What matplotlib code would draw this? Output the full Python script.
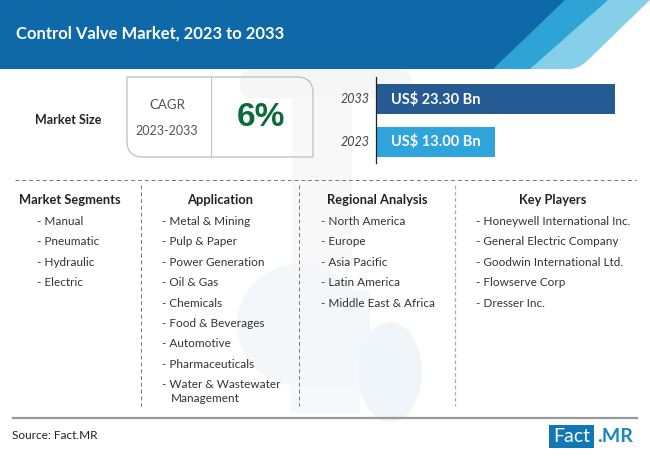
import matplotlib
matplotlib.use("Agg")
import matplotlib.pyplot as plt
from matplotlib.patches import Polygon, Rectangle, Ellipse, FancyBboxPatch, PathPatch
from matplotlib.path import Path

plt.rcParams['font.family'] = ['Lato', 'DejaVu Sans']

title = "Control Valve Market, 2023 to 2033"
years = ["2033", "2023"]
bar_labels = ["US$ 23.30 Bn", "US$ 13.00 Bn"]
# bars in the picture are not to scale, so lengths are read off it
bar_lengths = [239, 119]
bar_colors = ["#255a92", "#2ea3dc"]

segments = ["- Manual", "- Pneumatic", "- Hydraulic", "- Electric"]
applications = ["- Metal & Mining", "- Pulp & Paper", "- Power Generation", "- Oil & Gas",
                "- Chemicals", "- Food & Beverages", "- Automotive", "- Pharmaceuticals",
                "- Water & Wastewater"]
regions = ["- North America", "- Europe", "- Asia Pacific", "- Latin America",
           "- Middle East & Africa"]
players = ["- Honeywell International Inc.", "- General Electric Company",
           "- Goodwin International Ltd.", "- Flowserve Corp", "- Dresser Inc."]

fig = plt.figure(figsize=(6.5, 4.57), dpi=100)
ax = fig.add_axes([0, 0, 1, 1])
ax.set_xlim(0, 650)
ax.set_ylim(457, 0)
ax.axis('off')

# valve watermark
ax.add_patch(FancyBboxPatch((240, 70), 172, 28, boxstyle="round,pad=0,rounding_size=12",
                            color="#f6f6f6", lw=0, zorder=0))
ax.add_patch(Rectangle((292, 98), 60, 170, color="#f8f8f8", lw=0, zorder=0))
ax.add_patch(Ellipse((300, 325), 126, 122, color="#f3f7fa", lw=0, zorder=0))
ax.add_patch(Rectangle((300, 290), 70, 105, color="#f3f7fa", lw=0, zorder=0))
ax.add_patch(Ellipse((390, 372), 64, 100, color="#f0f5fa", lw=0, zorder=0))
ax.add_patch(Rectangle((290, 385), 70, 28, color="#f6f8fb", lw=0, zorder=0))

# header, each layer runs under the next so no seams show
ax.add_patch(Rectangle((0, 0), 650, 69, color="#0f69a8", lw=0, zorder=1))
ax.add_patch(Polygon([(565, 0), (650, 0), (650, 69), (493, 69)], color="#2ea3d5", lw=0, zorder=2))
ax.add_patch(Polygon([(608, 0), (650, 0), (650, 69), (530, 69)], color="#85cfe8", lw=0, zorder=3))
ax.add_patch(PathPatch(Path([(650, 0), (588, 60), (579, 69), (570, 69), (570, 70), (650, 70), (650, 0)],
                            [Path.MOVETO, Path.LINETO, Path.CURVE3, Path.CURVE3, Path.LINETO,
                             Path.LINETO, Path.CLOSEPOLY]),
                       fc="white", ec="none", lw=0, zorder=4))
ax.text(16, 34, title, color="white", fontsize=12, fontweight='bold', va='center', zorder=5)

# CAGR box
verts = [(127, 77), (297, 77), (313, 77), (313, 93), (313, 157), (143, 157), (127, 157),
         (127, 141), (127, 77)]
codes = [Path.MOVETO, Path.LINETO, Path.CURVE3, Path.CURVE3, Path.LINETO, Path.LINETO,
         Path.CURVE3, Path.CURVE3, Path.LINETO]
ax.add_patch(PathPatch(Path(verts, codes), fc="none", ec="#c4c4c4", lw=1))
ax.plot([211, 211], [77, 157], color="#c4c4c4", lw=0.8)
ax.text(68, 120, "Market Size", fontsize=9, fontweight='bold', color="#222222", ha='center', va='center')
ax.text(167, 105, "CAGR", fontsize=9.5, color="#555555", ha='center', va='center')
ax.text(167, 131, "2023-2033", fontsize=9, color="#555555", ha='center', va='center')
ax.text(261, 117, "6%", fontsize=24, color="#0d6b3b", ha='center', va='center', fontweight='bold',
        family=['Liberation Sans', 'DejaVu Sans'])

# bars
bar_y = [99, 142]
ax.barh(bar_y, bar_lengths, height=30.5, left=376, color=bar_colors, zorder=2)
ax.plot([376, 376], [77, 163], color="#222222", lw=0.9, zorder=3)
for y, year, label in zip(bar_y, years, bar_labels):
    ax.text(370, y, year, fontsize=9, color="#444444", ha='right', va='center', style='italic')
    ax.text(391, y, label, fontsize=10.5, color="white", va='center', fontweight='bold', zorder=4)

# separators
ax.plot([15, 636], [180, 180], color="#777777", lw=0.7, ls=(0, (4, 3)))
for x in [141, 299]:
    ax.plot([x, x], [185, 406], color="#777777", lw=0.7, ls=(0, (4, 3)))
ax.plot([455, 455], [185, 406], color="#aaaaaa", lw=0.9, ls=(0, (3, 2)))

# columns
heads = [("Market Segments", 70), ("Application", 220), ("Regional Analysis", 377), ("Key Players", 553)]
for head, x in heads:
    ax.text(x, 199.5, head, fontsize=9.3, fontweight='bold', color="#222222", ha='center', va='center')

columns = [(segments, 37), (applications, 162), (regions, 321), (players, 476)]
for items, x in columns:
    for i, item in enumerate(items):
        ax.text(x, 221.5 + i * 20.4, item, fontsize=8.5, color="#333333", va='center')
ax.text(171, 398.5, "Management", fontsize=8.5, color="#333333", va='center')

# footer
ax.plot([13, 637], [418, 418], color="#999999", lw=1.6)
ax.text(12, 435.5, "Source: Fact.MR", fontsize=8.5, color="#222222", va='center')
ax.add_patch(Rectangle((549, 425), 45, 23, color="#0f78b5", lw=0))
ax.text(571.5, 436.5, "Fact", fontsize=14, color="white", ha='center', va='center')
ax.text(597, 436.5, ".MR", fontsize=14, color="#1a86c4", va='center', fontweight='bold')

fig.savefig("out.png", dpi=100)
